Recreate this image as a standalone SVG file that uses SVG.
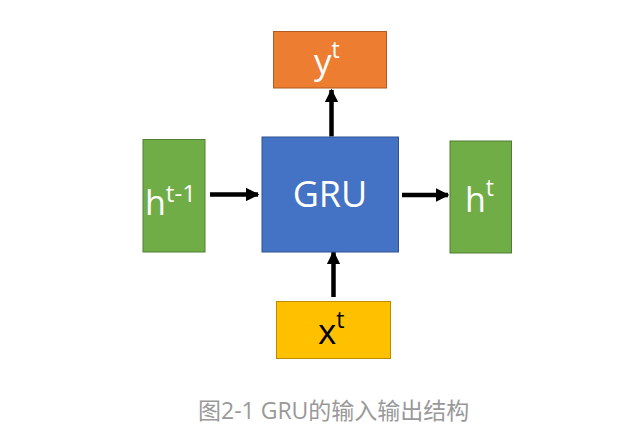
<svg xmlns="http://www.w3.org/2000/svg" width="634" height="442" viewBox="0 0 634 442">
<defs>
<style>
.lbl{font-family:"Open Sans","Liberation Sans","Noto Sans",sans-serif;fill:#fff}
.box{stroke-width:1}
.con{stroke:#000;stroke-width:4.5;fill:none}
</style>
<marker id="ah" viewBox="0 0 10 10" refX="9" refY="5" markerWidth="3" markerHeight="3" markerUnits="strokeWidth" orient="auto">
<path d="M0,0 L10,5 L0,10 Z" fill="#000"/>
</marker>
</defs>
<rect width="634" height="442" fill="#fff"/>
<g id="connectors">
<line class="con" x1="331.5" y1="136.5" x2="331.5" y2="90" marker-end="url(#ah)"/>
<line class="con" x1="210" y1="194.5" x2="258" y2="194.5" marker-end="url(#ah)"/>
<line class="con" x1="402" y1="195" x2="448" y2="195" marker-end="url(#ah)"/>
<line class="con" x1="333.5" y1="297" x2="333.5" y2="252" marker-end="url(#ah)"/>
</g>
<g id="node-y">
<rect class="box" x="273.5" y="31.5" width="113" height="56.5" fill="#ED7D31" stroke="#AE5A21"/>
<text class="lbl" x="314" y="74" font-size="35">y<tspan dy="-16" font-size="23">t</tspan></text>
</g>
<g id="node-hprev">
<rect class="box" x="143" y="139.5" width="62" height="112.5" fill="#70AD47" stroke="#507E32"/>
<text class="lbl" x="145" y="215" font-size="34">h<tspan dy="-13" font-size="24">t-1</tspan></text>
</g>
<g id="node-gru">
<rect class="box" x="262" y="137" width="136.5" height="115" fill="#4472C4" stroke="#2F528F"/>
<text class="lbl" x="330" y="207" font-size="36" text-anchor="middle">GRU</text>
</g>
<g id="node-h">
<rect class="box" x="450" y="141" width="61.5" height="112" fill="#70AD47" stroke="#507E32"/>
<text class="lbl" x="465" y="212" font-size="34">h<tspan dy="-16" font-size="23">t</tspan></text>
</g>
<g id="node-x">
<rect class="box" x="276.5" y="301.5" width="114" height="57" fill="#FFC000" stroke="#BC8C00"/>
<text class="lbl" x="318" y="344" font-size="35" style="fill:#000">x<tspan dy="-16" font-size="23">t</tspan></text>
</g>
<text x="198" y="419" font-size="23" fill="#999" font-family="&quot;Open Sans&quot;,&quot;Noto Sans CJK SC&quot;,sans-serif">图2-1 GRU的输入输出结构</text>
</svg>
